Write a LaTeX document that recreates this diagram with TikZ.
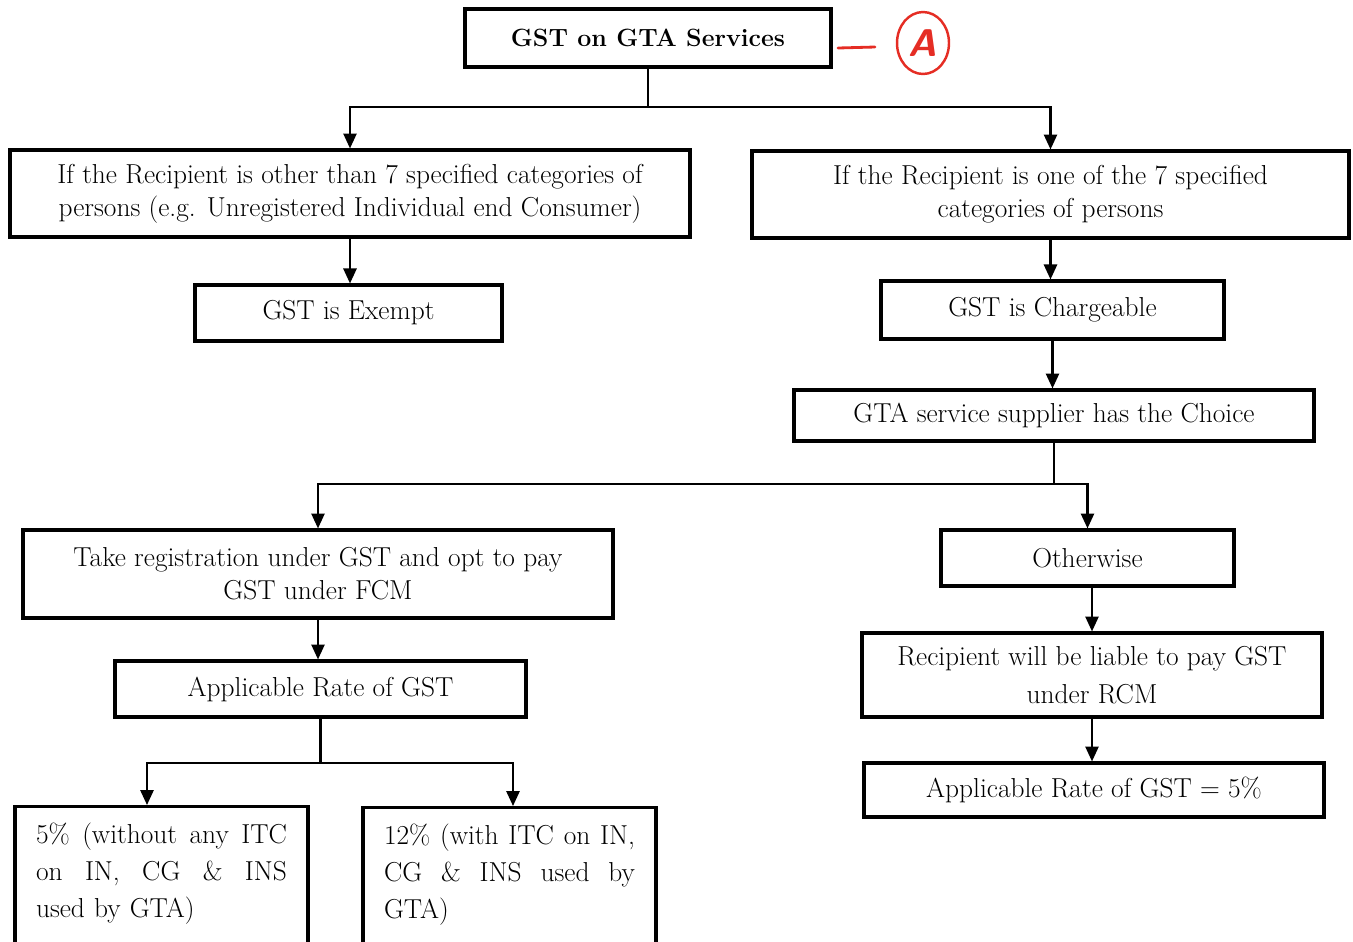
\documentclass[tikz,border=0pt]{standalone}
\usepackage{amsmath}
\usepackage{tikz}
\usetikzlibrary{shapes,arrows.meta}
\usetikzlibrary{positioning}
\definecolor{penred}{RGB}{229,45,36}

\begin{document}
\begin{tikzpicture}[x=0.02cm,y=-0.02cm,every node/.style={inner sep=0pt},
  box/.style={draw,line width=1.8pt,align=center,font=\fontsize{15.6}{18.7}\selectfont},
  rates/.style={draw,line width=1.8pt,anchor=north,align=left,text width=5.02cm,
    inner xsep=0.42cm,inner ysep=0.32cm,text depth=3cm,font=\fontsize{15.6}{21.3}\selectfont},
  arr/.style={line width=1.2pt,-{Triangle[length=8.5pt,width=7.5pt]}},
  link/.style={line width=1.2pt}]

  \useasboundingbox (0,0) rectangle (1353,941);
  \clip (0,0) rectangle (1353,941);

  % top of the tree
  \node[box,font=\fontsize{14.2}{18.7}\selectfont\bfseries,minimum width=7.32cm,
    minimum height=1.16cm] (gta) at (648,38) {GST on GTA Services};
  \draw[penred,line width=1.6pt,line cap=round] (838,48) -- (875,47);
  \node[draw=penred,ellipse,line width=1.4pt,minimum width=1.04cm,minimum height=1.24cm,
    text=penred,font=\fontsize{22}{22}\sffamily\bfseries\slshape] (mark) at (923,43) {A};

  \node[box,minimum width=13.6cm,minimum height=1.74cm] (other) at (350,193.5)
  {If the Recipient is other than 7 specified categories of\\ persons (e.g. Unregistered
    Individual end Consumer)};
  \node[box,minimum width=11.94cm,minimum height=1.74cm] (spec) at (1050.5,194.5)
  {If the Recipient is one of the 7 specified\\ categories of persons};

  \node[box,minimum width=6.14cm,minimum height=1.12cm] (exempt) at (348.5,313) {GST is Exempt};
  \node[box,minimum width=6.86cm,minimum height=1.16cm] (charge) at (1052.5,310) {GST is Chargeable};
  \node[box,minimum width=10.4cm,minimum height=1.02cm] (choice) at (1054,415.5)
  {GTA service supplier has the Choice};

  % the two options
  \node[box,minimum width=11.8cm,minimum height=1.76cm] (fcm) at (318,574)
  {Take registration under GST and opt to pay\\ GST under FCM};
  \node[box,minimum width=5.86cm,minimum height=1.12cm] (otherwise) at (1087.5,558) {Otherwise};
  \node[box,minimum width=9.2cm,minimum height=1.68cm,font=\fontsize{15.6}{21.5}\selectfont] (rcm)
  at (1092,675) {Recipient will be liable to pay GST\\ under RCM};
  \node[box,minimum width=9.2cm,minimum height=1.08cm] (rcmrate) at (1094,790)
  {Applicable Rate of GST = 5\%};
  \node[box,minimum width=8.22cm,minimum height=1.12cm] (rate) at (320.5,689) {Applicable Rate of GST};

  \node[rates] (five) at (161.5,805)
  {5\%\hfill (without\hfill any\hfill ITC\\ on\hfill IN,\hfill CG\hfill \&\hfill INS\\ used by GTA)};
  \node[rates] (twelve) at (509.5,806)
  {12\%\hfill (with\hfill ITC\hfill on\hfill IN,\\ CG\hfill \&\hfill INS\hfill used\hfill by\\ GTA)};

  % connectors
  \coordinate (j1) at (648,107);
  \draw[link] (gta.south) -- (j1);
  \draw[arr] (j1) -| (other.north);
  \draw[arr] (j1) -| (spec.north);
  \draw[arr] (other.south) -- (other.south |- exempt.north);
  \draw[arr] (spec.south) -- (spec.south |- charge.north);
  \draw[arr] (charge.south) -- (charge.south |- choice.north);

  \coordinate (j2) at (1054,484);
  \draw[link] (choice.south) -- (j2);
  \draw[arr] (j2) -| (fcm.north);
  \draw[arr] (j2) -| (otherwise.north);
  \draw[arr] (otherwise.south -| rcm.north) -- (rcm.north);
  \draw[arr] (rcm.south) -- (rcm.south |- rcmrate.north);
  \draw[arr] (fcm.south) -- (fcm.south |- rate.north);

  \coordinate (j3) at (320.5,763);
  \draw[link] (rate.south) -- (j3);
  \draw[arr] (j3) -| ([xshift=-0.29cm]five.north);
  \draw[arr] (j3) -| ([xshift=0.07cm]twelve.north);

\end{tikzpicture}
\end{document}
